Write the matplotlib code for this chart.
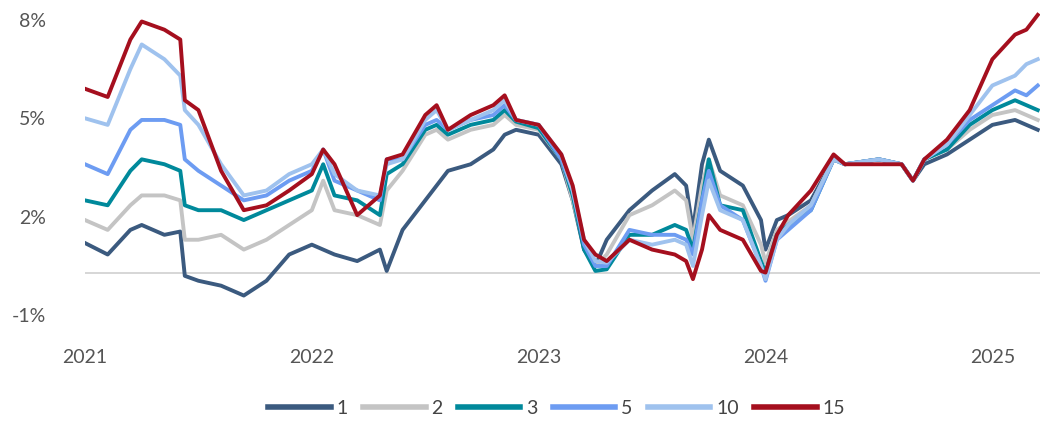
import matplotlib
matplotlib.use("Agg")
import matplotlib.pyplot as plt

dates = [2021.0,2021.1,2021.2,2021.25,2021.35,2021.42,2021.44,2021.5,2021.6,2021.7,2021.8,2021.9,
         2022.0,2022.05,2022.1,2022.2,2022.3,2022.33,2022.4,2022.5,2022.55,2022.6,2022.7,2022.8,2022.85,2022.9,
         2023.0,2023.1,2023.15,2023.2,2023.25,2023.3,2023.4,2023.5,2023.6,2023.65,2023.68,2023.72,2023.75,2023.8,2023.9,2023.98,
         2024.0,2024.05,2024.1,2024.2,2024.3,2024.35,2024.5,2024.6,2024.65,2024.7,2024.8,2024.9,
         2025.0,2025.1,2025.15,2025.2]

s1 = [1.2,0.85,1.6,1.75,1.45,1.55,0.2,0.05,-0.1,-0.4,0.05,0.85,
      1.15,1.0,0.85,0.65,1.0,0.35,1.6,2.5,2.95,3.4,3.6,4.05,4.5,4.65,
      4.5,3.6,2.5,1.0,0.5,1.3,2.2,2.8,3.3,2.95,1.6,3.6,4.35,3.4,2.95,1.9,
      1.0,1.9,2.05,2.5,3.75,3.6,3.75,3.6,3.1,3.6,3.9,4.35,
      4.8,4.95,4.8,4.65]
s2 = [1.9,1.6,2.35,2.65,2.65,2.5,1.3,1.3,1.45,1.0,1.3,1.75,
      2.2,3.1,2.2,2.05,1.75,2.8,3.4,4.5,4.65,4.35,4.65,4.8,5.1,4.8,
      4.65,3.75,2.5,1.15,0.5,0.85,2.05,2.35,2.8,2.5,1.3,2.95,3.75,2.65,2.35,1.15,
      0.6,1.6,1.85,2.35,3.75,3.6,3.75,3.6,3.1,3.75,4.05,4.65,
      5.1,5.25,5.1,4.95]
s3 = [2.5,2.35,3.4,3.75,3.6,3.4,2.35,2.2,2.2,1.9,2.2,2.5,
      2.8,3.6,2.65,2.5,2.05,3.3,3.6,4.65,4.8,4.5,4.8,4.95,5.25,4.9,
      4.7,3.75,2.65,1.0,0.35,0.4,1.45,1.45,1.75,1.6,1.0,2.5,3.75,2.35,2.2,0.65,
      0.3,1.45,1.75,2.2,3.75,3.6,3.75,3.6,3.1,3.75,4.05,4.8,
      5.25,5.55,5.4,5.25]
s5 = [3.6,3.3,4.65,4.95,4.95,4.8,3.75,3.4,2.95,2.5,2.65,3.1,
      3.4,4.05,3.1,2.8,2.5,3.75,3.75,4.8,4.95,4.65,4.95,5.1,5.4,4.95,
      4.8,3.75,2.8,1.15,0.5,0.5,1.6,1.45,1.45,1.3,0.85,2.5,3.4,2.35,1.9,0.5,
      0.05,1.3,1.6,2.2,3.75,3.6,3.75,3.6,3.1,3.75,4.2,4.95,
      5.4,5.85,5.7,6.0]
s10 = [5.0,4.8,6.5,7.25,6.8,6.3,5.25,4.8,3.6,2.65,2.8,3.3,
       3.6,4.05,3.3,2.8,2.65,3.6,3.75,4.95,5.25,4.65,4.95,5.25,5.55,4.95,
       4.8,3.9,2.8,1.3,0.65,0.6,1.3,1.15,1.3,1.15,0.5,2.05,3.1,2.2,1.9,0.5,
       0.1,1.3,1.75,2.35,3.75,3.6,3.75,3.6,3.1,3.75,4.2,5.1,
       6.0,6.3,6.65,6.8]
s15 = [5.9,5.65,7.4,7.95,7.7,7.4,5.55,5.25,3.4,2.2,2.35,2.8,
       3.3,4.05,3.6,2.05,2.65,3.75,3.9,5.1,5.4,4.65,5.1,5.4,5.7,4.95,
       4.8,3.9,2.95,1.3,0.85,0.65,1.3,1.0,0.85,0.65,0.1,1.0,2.05,1.6,1.3,0.35,
       0.3,1.45,2.05,2.8,3.9,3.6,3.6,3.6,3.1,3.75,4.35,5.25,
       6.8,7.55,7.7,8.15]

series = [("1", s1, "#3b5a7f"), ("2", s2, "#c4c4c4"), ("3", s3, "#00899b"),
          ("5", s5, "#6d9cf2"), ("10", s10, "#9fc2ee"), ("15", s15, "#a50f1e")]
yticks = [-1, 2, 5, 8]
xticks = [2021, 2022, 2023, 2024, 2025]

plt.rcParams['font.family'] = ['Lato', 'DejaVu Sans']
fig = plt.figure(figsize=(10.43, 4.25), dpi=100)
ax = fig.add_axes([85/1043, 1-330/425, 955/1043, 320/425])
ax.axhline(0.3, color="#d0d0d0", lw=1.2, zorder=0)
for name, vals, col in series:
    ax.plot(dates, vals, color=col, lw=2.8, label=name, solid_joinstyle="round")
ax.set_xlim(2021, 2025.21)
ax.set_ylim(-1.45, 8.3)
ax.set_yticks(yticks)
ax.set_yticklabels([f"{t}%" for t in yticks])
ax.set_xticks(xticks)
ax.set_xticklabels([str(t) for t in xticks])
for s in ax.spines.values():
    s.set_visible(False)
ax.tick_params(length=0, labelsize=14, colors="#555555")
ax.tick_params(axis="y", pad=28)
ax.tick_params(axis="x", pad=14)
leg = ax.legend(loc="center", bbox_to_anchor=(0.494, -0.245), ncol=6, frameon=False,
                fontsize=14, handlelength=3.2, columnspacing=0.8, handletextpad=0.3,
                labelcolor="#444444")
for h in leg.get_lines():
    h.set_linewidth(4)
fig.savefig("out.png")
